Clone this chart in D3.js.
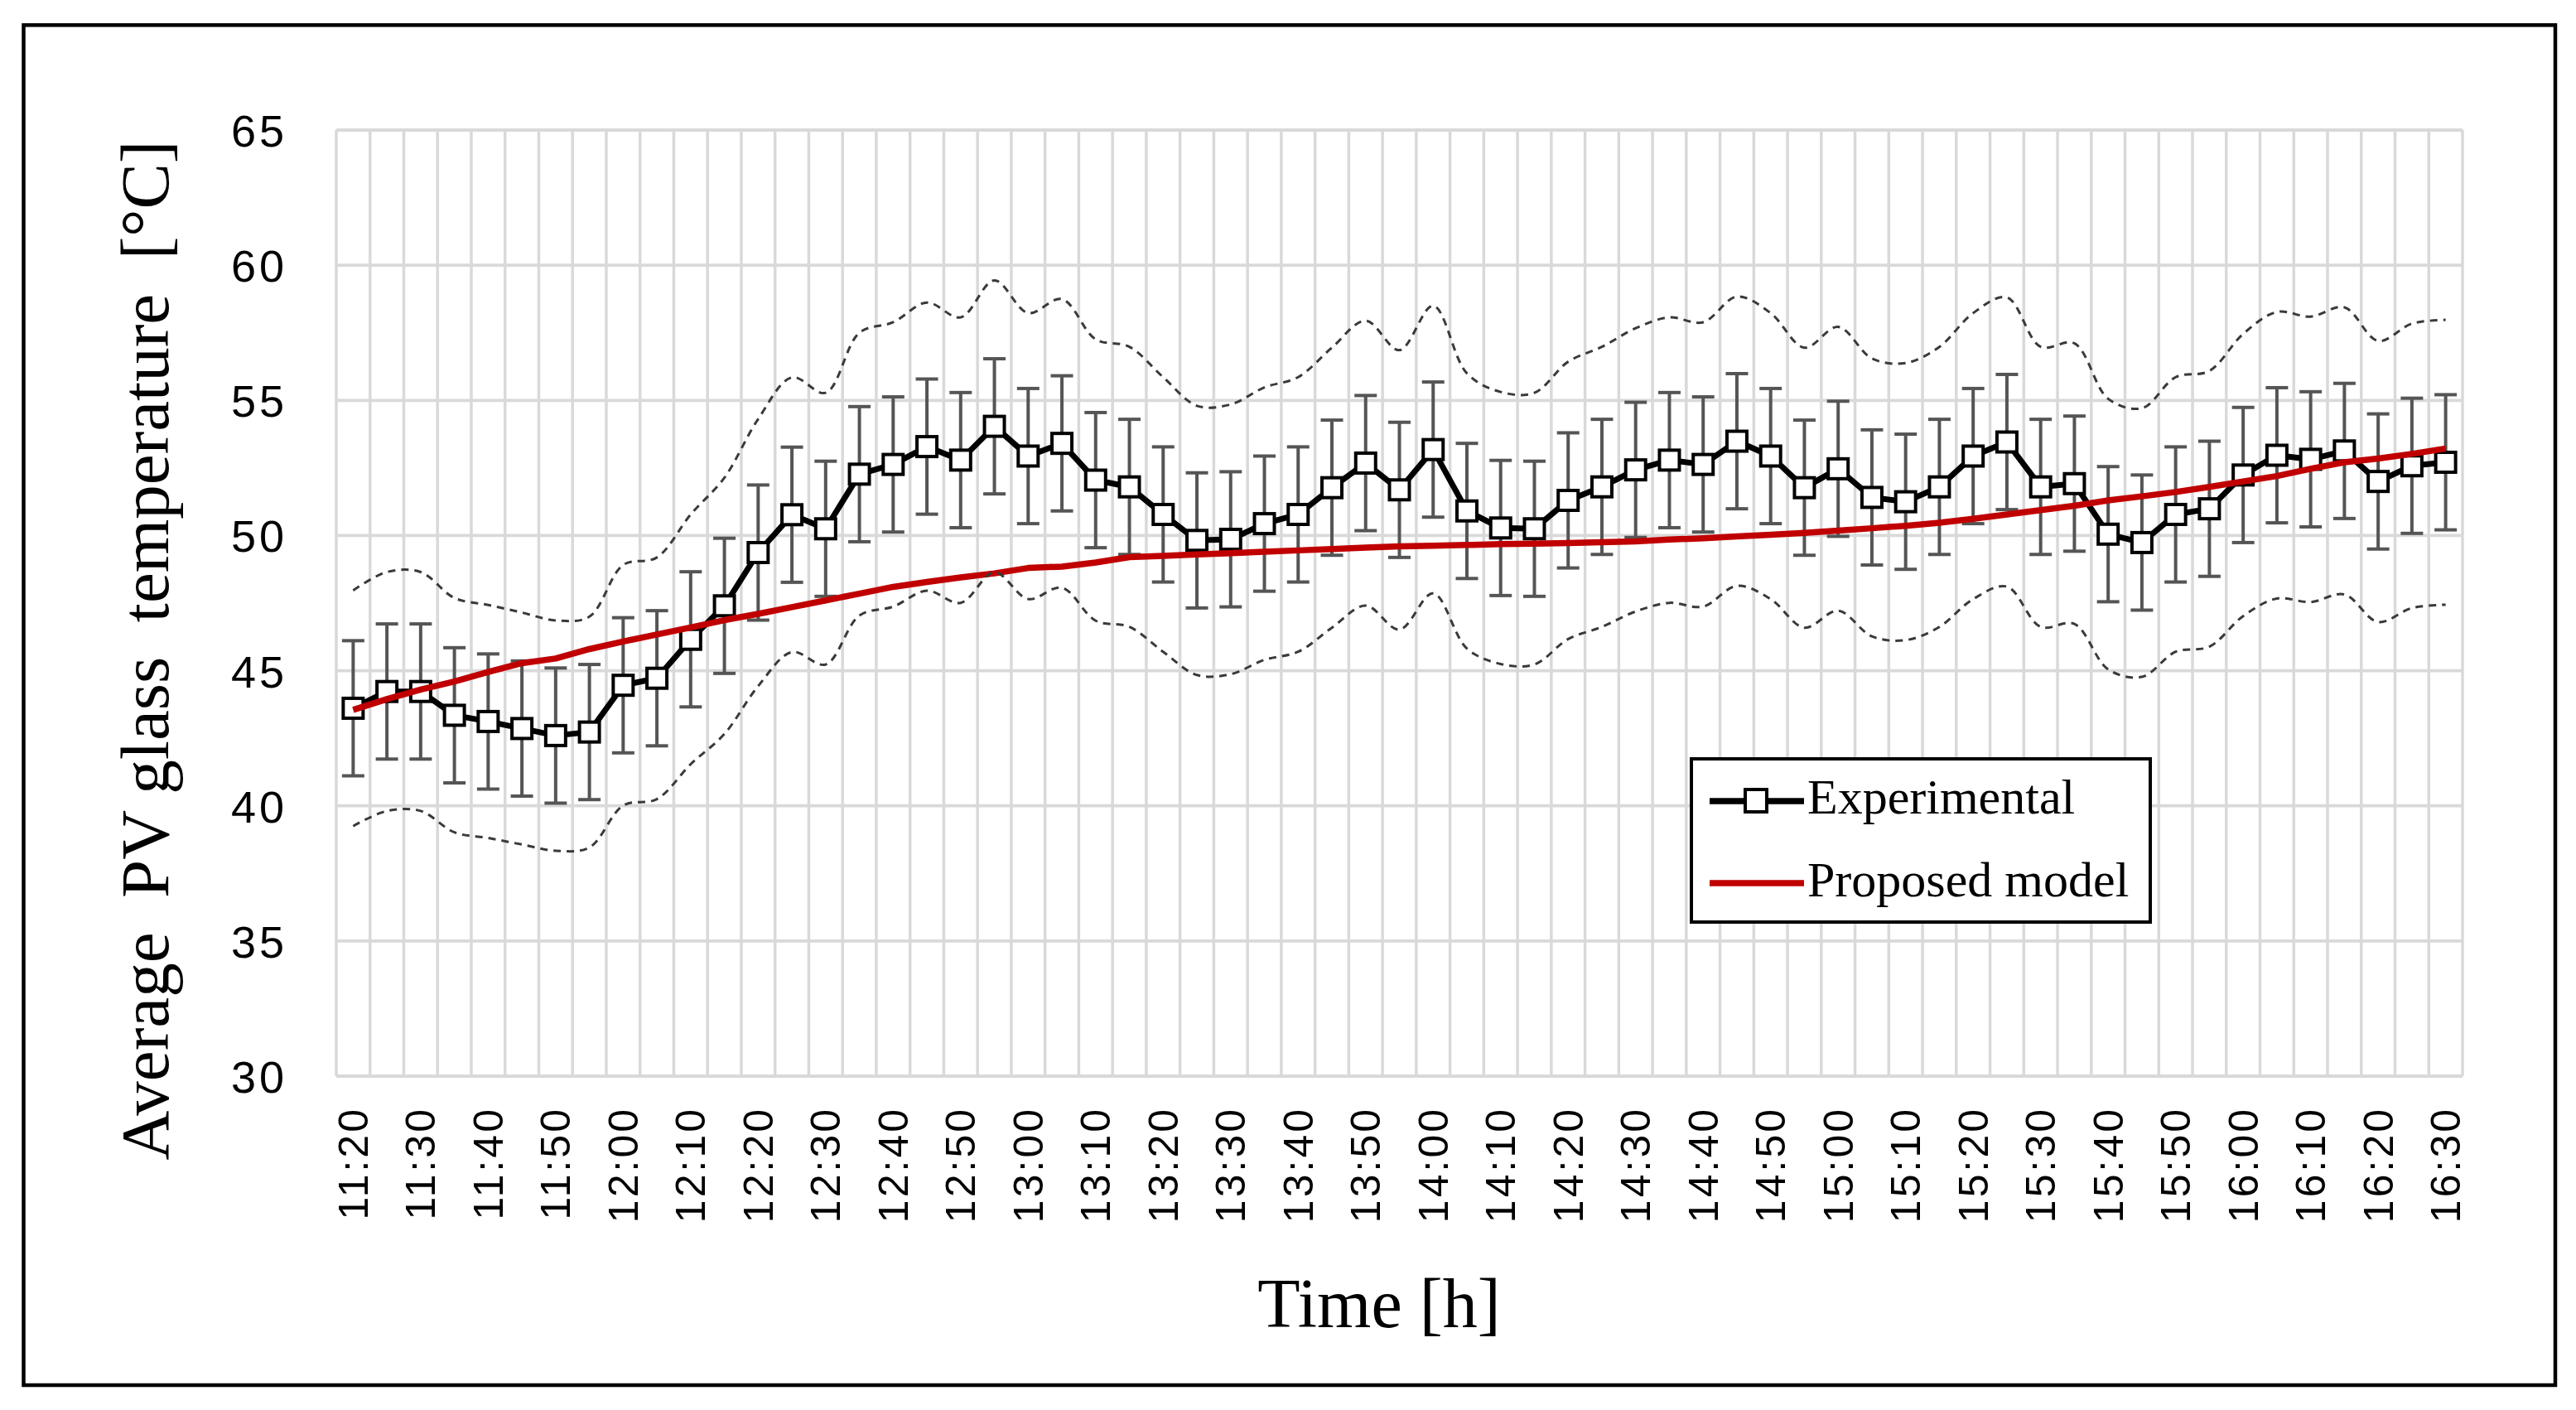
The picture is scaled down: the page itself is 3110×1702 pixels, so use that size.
<!DOCTYPE html>
<html>
<head>
<meta charset="utf-8">
<script src="https://cdn.jsdelivr.net/npm/d3@7/dist/d3.min.js"></script>
<style>
  html, body { margin: 0; padding: 0; background: #fff; }
  svg { display: block; }
</style>
</head>
<body>
<svg id="chart" width="3110" height="1702"></svg>
<script>
// ---------------- DATA ----------------
const categories = [
  "11:20","11:25","11:30","11:35","11:40","11:45","11:50","11:55",
  "12:00","12:05","12:10","12:15","12:20","12:25","12:30","12:35","12:40","12:45","12:50","12:55",
  "13:00","13:05","13:10","13:15","13:20","13:25","13:30","13:35","13:40","13:45","13:50","13:55",
  "14:00","14:05","14:10","14:15","14:20","14:25","14:30","14:35","14:40","14:45","14:50","14:55",
  "15:00","15:05","15:10","15:15","15:20","15:25","15:30","15:35","15:40","15:45","15:50","15:55",
  "16:00","16:05","16:10","16:15","16:20","16:25","16:30"
];
const tickLabels = [
  "11:20","11:30","11:40","11:50","12:00","12:10","12:20","12:30","12:40","12:50",
  "13:00","13:10","13:20","13:30","13:40","13:50","14:00","14:10","14:20","14:30",
  "14:40","14:50","15:00","15:10","15:20","15:30","15:40","15:50","16:00","16:10",
  "16:20","16:30"
];
const yTicks = [30, 35, 40, 45, 50, 55, 60, 65];

const experimental = [
  43.61,44.23,44.23,43.35,43.12,42.86,42.60,42.73,44.46,44.72,46.16,47.40,49.37,50.77,50.25,52.27,
  52.63,53.29,52.79,54.04,52.94,53.41,52.05,51.80,50.78,49.82,49.86,50.44,50.78,51.77,52.68,51.69,
  53.18,50.91,50.28,50.25,51.30,51.80,52.43,52.79,52.63,53.49,52.94,51.77,52.47,51.41,51.25,51.80,
  52.94,53.46,51.80,51.92,50.05,49.74,50.78,50.99,52.24,52.97,52.82,53.13,52.00,52.58,52.71
];
const errorMargin = 2.5;

const upperBound = [
  47.97,48.65,48.65,47.69,47.43,47.15,46.86,47.00,48.91,49.19,50.78,52.14,54.31,55.85,55.28,57.50,
  57.89,58.62,58.07,59.44,58.23,58.75,57.26,56.98,55.86,54.80,54.85,55.48,55.86,56.95,57.95,56.86,
  58.50,56.00,55.31,55.28,56.43,56.98,57.67,58.07,57.89,58.84,58.23,56.95,57.72,56.55,56.38,56.98,
  58.23,58.81,56.98,57.11,55.06,54.71,55.86,56.09,57.46,58.27,58.10,58.44,57.20,57.84,57.98
];
const lowerBound = [
  39.25,39.81,39.81,39.02,38.81,38.57,38.34,38.46,40.01,40.25,41.54,42.66,44.43,45.69,45.23,47.04,
  47.37,47.96,47.51,48.64,47.65,48.07,46.85,46.62,45.70,44.84,44.87,45.40,45.70,46.59,47.41,46.52,
  47.86,45.82,45.25,45.23,46.17,46.62,47.19,47.51,47.37,48.14,47.65,46.59,47.22,46.27,46.13,46.62,
  47.65,48.11,46.62,46.73,45.05,44.77,45.70,45.89,47.02,47.67,47.54,47.82,46.80,47.32,47.44
];

const proposedModel = [
  43.55,43.95,44.30,44.60,44.95,45.28,45.45,45.80,46.08,46.34,46.60,46.87,47.10,47.35,47.60,47.85,
  48.10,48.28,48.45,48.60,48.80,48.85,49.00,49.20,49.25,49.30,49.35,49.40,49.45,49.50,49.55,49.60,
  49.62,49.65,49.68,49.70,49.72,49.75,49.78,49.85,49.90,49.97,50.03,50.10,50.18,50.27,50.36,50.47,
  50.62,50.78,50.94,51.10,51.30,51.45,51.61,51.80,52.00,52.20,52.47,52.71,52.85,53.02,53.22
];

const legendItems = ["Experimental", "Proposed model"];
const xTitle = "Time [h]";
const yTitle = "Average  PV glass  temperature  [°C]";

// ---------------- LAYOUT ----------------
const svg = d3.select("#chart");
const plot = { left: 406, right: 2973, top: 157, bottom: 1299 };
const gridColor = "#d9d9d9";
const serif = "'Liberation Serif', 'Times New Roman', serif";
const sans = "'Liberation Sans', Arial, sans-serif";

const x = d3.scaleBand().domain(categories).range([plot.left, plot.right]).padding(0);
const y = d3.scaleLinear().domain([30, 65]).range([plot.bottom, plot.top]);
const cx = c => x(c) + x.bandwidth() / 2;

// Outer border
svg.append("rect")
  .attr("x", 28.5).attr("y", 30.3).attr("width", 3056.5).attr("height", 1641.7)
  .attr("fill", "#fff").attr("stroke", "#000").attr("stroke-width", 4.5);

// Gridlines
const grid = svg.append("g");
grid.selectAll("line.h").data(yTicks).join("line")
  .attr("x1", plot.left).attr("x2", plot.right)
  .attr("y1", d => y(d)).attr("y2", d => y(d))
  .attr("stroke", gridColor).attr("stroke-width", 3.8);
grid.selectAll("line.v").data(d3.range(categories.length + 1)).join("line")
  .attr("x1", k => plot.left + k * x.step()).attr("x2", k => plot.left + k * x.step())
  .attr("y1", plot.top).attr("y2", plot.bottom)
  .attr("stroke", gridColor).attr("stroke-width", 3.5);

// Axes
const xAxis = svg.append("g")
  .attr("transform", `translate(0,${plot.bottom})`)
  .call(d3.axisBottom(x).tickValues(tickLabels).tickSize(0).tickPadding(0));
xAxis.select(".domain").remove();
xAxis.selectAll("text")
  .attr("transform", "rotate(-90)")
  .attr("text-anchor", "end")
  .attr("x", -37).attr("y", 0).attr("dy", "0.35em")
  .attr("font-family", sans).attr("font-size", 50)
  .attr("letter-spacing", 3)
  .attr("fill", "#000");

const yAxis = svg.append("g")
  .attr("transform", `translate(${plot.left},0)`)
  .call(d3.axisLeft(y).tickValues(yTicks).tickSize(0).tickPadding(59));
yAxis.select(".domain").remove();
yAxis.selectAll("text")
  .attr("font-family", sans).attr("font-size", 54)
  .attr("letter-spacing", 4)
  .attr("dy", "0.36em")
  .attr("fill", "#000");

// Line generators
const smooth = d3.line().x((d, i) => cx(categories[i])).y(d => y(d)).curve(d3.curveCatmullRom.alpha(0.5));
const straight = d3.line().x((d, i) => cx(categories[i])).y(d => y(d));

// Error bars
const eb = svg.append("g").attr("stroke", "#555").attr("stroke-width", 4);
eb.selectAll("line.bar").data(experimental).join("line").attr("class", "bar")
  .attr("x1", (d, i) => cx(categories[i])).attr("x2", (d, i) => cx(categories[i]))
  .attr("y1", d => y(d + errorMargin)).attr("y2", d => y(d - errorMargin));
eb.selectAll("line.capTop").data(experimental).join("line").attr("class", "capTop")
  .attr("x1", (d, i) => cx(categories[i]) - 13.5).attr("x2", (d, i) => cx(categories[i]) + 13.5)
  .attr("y1", d => y(d + errorMargin)).attr("y2", d => y(d + errorMargin));
eb.selectAll("line.capBot").data(experimental).join("line").attr("class", "capBot")
  .attr("x1", (d, i) => cx(categories[i]) - 13.5).attr("x2", (d, i) => cx(categories[i]) + 13.5)
  .attr("y1", d => y(d - errorMargin)).attr("y2", d => y(d - errorMargin));

// Experimental line + markers
svg.append("path").datum(experimental)
  .attr("d", straight).attr("fill", "none")
  .attr("stroke", "#000").attr("stroke-width", 7).attr("stroke-linejoin", "round");
const ms = 24;
svg.append("g").selectAll("rect").data(experimental).join("rect")
  .attr("x", (d, i) => cx(categories[i]) - ms / 2)
  .attr("y", d => y(d) - ms / 2)
  .attr("width", ms).attr("height", ms)
  .attr("fill", "#fff").attr("stroke", "#000").attr("stroke-width", 4);

// Proposed model
svg.append("path").datum(proposedModel)
  .attr("d", straight).attr("fill", "none")
  .attr("stroke", "#c00000").attr("stroke-width", 7.5).attr("stroke-linejoin", "round");

// Dashed envelope
[upperBound, lowerBound].forEach(arr => {
  svg.append("path").datum(arr)
    .attr("d", smooth).attr("fill", "none")
    .attr("stroke", "#3a3a3a").attr("stroke-width", 3)
    .attr("stroke-dasharray", "9,7");
});

// Legend
const lg = svg.append("g");
lg.append("rect").attr("x", 2042).attr("y", 916).attr("width", 554).attr("height", 197)
  .attr("fill", "#fff").attr("stroke", "#000").attr("stroke-width", 4);
lg.append("line").attr("x1", 2064).attr("x2", 2178).attr("y1", 967).attr("y2", 967)
  .attr("stroke", "#000").attr("stroke-width", 7.5);
lg.append("rect").attr("x", 2107).attr("y", 953).attr("width", 26).attr("height", 27)
  .attr("fill", "#fff").attr("stroke", "#000").attr("stroke-width", 4);
lg.append("line").attr("x1", 2064).attr("x2", 2178).attr("y1", 1066).attr("y2", 1066)
  .attr("stroke", "#c00000").attr("stroke-width", 7.5);
lg.selectAll("text").data(legendItems).join("text")
  .attr("x", 2182).attr("y", (d, i) => i === 0 ? 982 : 1082)
  .attr("font-family", serif).attr("font-size", 60).attr("fill", "#000")
  .text(d => d);

// Axis titles
svg.append("text")
  .attr("x", 1665).attr("y", 1602)
  .attr("text-anchor", "middle")
  .attr("font-family", serif).attr("font-size", 84).attr("fill", "#000")
  .text(xTitle);

svg.append("text")
  .attr("transform", "translate(203,785) rotate(-90)")
  .attr("text-anchor", "middle")
  .attr("font-family", serif).attr("font-size", 83).attr("fill", "#000")
  .style("white-space", "pre")
  .text(yTitle);
</script>
</body>
</html>
